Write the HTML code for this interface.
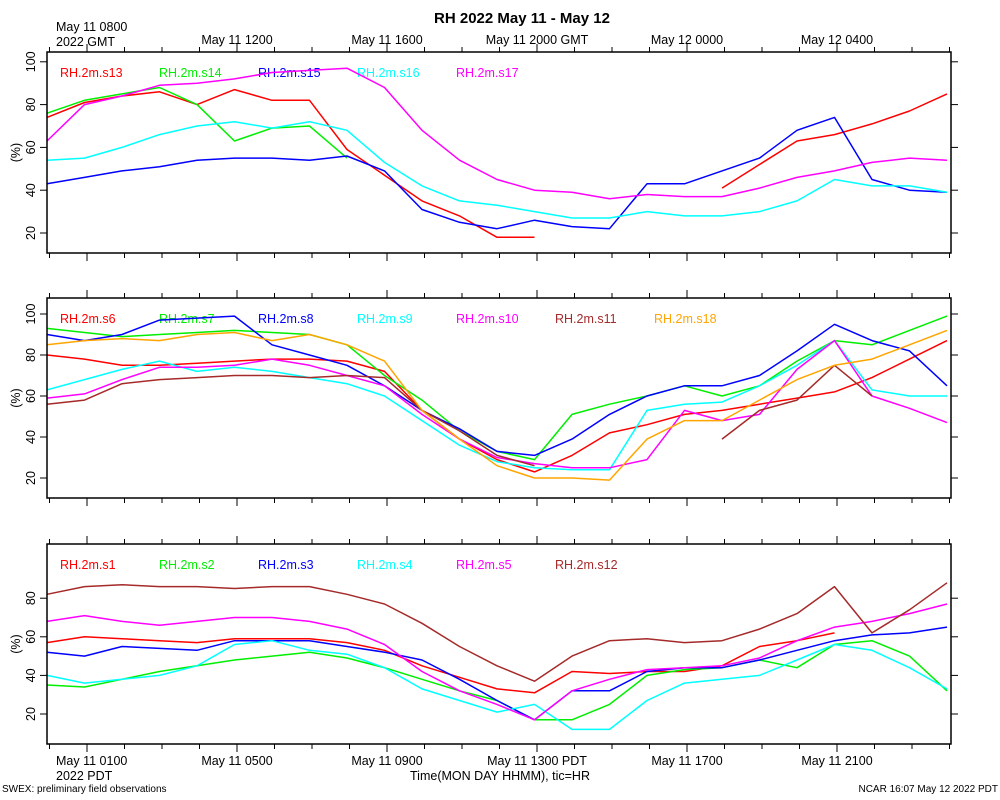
<!DOCTYPE html>
<html><head><meta charset="utf-8"><style>
body{margin:0;background:#fff;}
svg{display:block;font-family:"Liberation Sans",sans-serif;}
</style></head><body>
<svg id="c" width="1000" height="800">
<text x="522" y="23" text-anchor="middle" font-size="15" font-weight="bold">RH 2022 May 11 - May 12</text>
<text x="56" y="31" font-size="12.5">May 11 0800</text>
<text x="56" y="46" font-size="12.5">2022 GMT</text>
<text x="56" y="765" font-size="12.5">May 11 0100</text>
<text x="56" y="780" font-size="12.5">2022 PDT</text>
<text x="500" y="780" text-anchor="middle" font-size="12.5">Time(MON DAY HHMM), tic=HR</text>
<text x="2" y="792" font-size="10">SWEX: preliminary field observations</text>
<text x="998" y="792" text-anchor="end" font-size="10">NCAR 16:07 May 12 2022 PDT</text>
</svg>
<script>
const topTicks=["May 11 1200","May 11 1600","May 11 2000 GMT","May 12 0000","May 12 0400"];
const botTicks=["May 11 0500","May 11 0900","May 11 1300 PDT","May 11 1700","May 11 2100"];
const yTicks1=[20,40,60,80,100];
const yTicks3=[20,40,60,80];
const N=null;
// panel 1
const s13=[74,81,84,86,80,87,82,82,59,47,35,28,18,18,N,N,N,N,41,52,63,66,71,77,85];
const s14=[76,82,85,88,80,63,69,70,55,N,N,N,N,N,N,N,N,N,N,N,N,N,N,N,N];
const s15=[43,46,49,51,54,55,55,54,56,49,31,25,22,26,23,22,43,43,49,55,68,74,45,40,39];
const s16=[54,55,60,66,70,72,69,72,68,53,42,35,33,30,27,27,30,28,28,30,35,45,42,42,39];
const s17=[63,80,84,89,90,92,95,96,97,88,68,54,45,40,39,36,38,37,37,41,46,49,53,55,54];
// panel 2
const s6=[80,78,75,75,76,77,78,78,77,72,53,39,29,23,31,42,46,51,53,56,59,62,69,78,87];
const s7=[93,91,89,90,91,92,91,90,85,70,58,43,33,29,51,56,60,65,60,65,77,87,85,92,99];
const s8=[90,87,90,97,98,99,85,80,75,65,53,44,33,31,39,51,60,65,65,70,82,95,87,82,65];
const s9=[63,68,73,77,72,74,72,69,66,60,48,36,28,25,24,24,53,56,57,65,75,87,63,60,60];
const s10=[59,61,68,74,74,75,78,75,70,65,51,39,30,27,25,25,29,53,48,51,73,87,60,54,47];
const s11=[56,58,66,68,69,70,70,69,70,69,53,43,31,26,N,N,N,N,39,53,58,75,60,N,N];
const s18=[85,87,88,87,90,91,87,90,85,77,53,39,26,20,20,19,39,48,48,58,68,75,78,85,92];
// panel 3
const s1=[57,60,59,58,57,59,59,59,57,53,45,39,33,31,42,41,42,42,45,55,58,62,N,N,N];
const s2=[35,34,38,42,45,48,50,52,49,44,38,32,27,17,17,25,40,43,44,48,44,56,58,50,32];
const s3=[52,50,55,54,53,58,58,58,55,52,48,38,27,17,32,32,42,44,44,48,53,58,61,62,65];
const s4=[40,36,38,40,45,56,58,53,51,44,33,27,21,25,12,12,27,36,38,40,48,56,53,44,33];
const s5=[68,71,68,66,68,70,70,68,64,56,42,32,25,17,32,38,43,44,45,49,58,65,68,72,77];
const s12=[82,86,87,86,86,85,86,86,82,77,67,55,45,37,50,58,59,57,58,64,72,86,62,74,88];

const panels=[
 {top:52,bot:253,v0:20,y0:233,ppu:2.14,ticks:yTicks1,series:[["RH.2m.s13",s13,"#f00"],["RH.2m.s14",s14,"#0e0"],["RH.2m.s15",s15,"#00f"],["RH.2m.s16",s16,"#0ff"],["RH.2m.s17",s17,"#f0f"]]},
 {top:298,bot:498,v0:20,y0:478,ppu:2.05,ticks:yTicks1,series:[["RH.2m.s6",s6,"#f00"],["RH.2m.s7",s7,"#0e0"],["RH.2m.s8",s8,"#00f"],["RH.2m.s9",s9,"#0ff"],["RH.2m.s10",s10,"#f0f"],["RH.2m.s11",s11,"#a52a2a"],["RH.2m.s18",s18,"#ffa500"]]},
 {top:544,bot:744,v0:20,y0:714,ppu:1.93,ticks:yTicks3,series:[["RH.2m.s1",s1,"#f00"],["RH.2m.s2",s2,"#0e0"],["RH.2m.s3",s3,"#00f"],["RH.2m.s4",s4,"#0ff"],["RH.2m.s5",s5,"#f0f"],["RH.2m.s12",s12,"#a52a2a"]]}
];
const X0=47,X1=951;
function xs(t){return X0+t*37.5;}
const svg=document.getElementById('c');
const NS="http://www.w3.org/2000/svg";
function mk(tag,attrs,parent){const e=document.createElementNS(NS,tag);for(const k in attrs)e.setAttribute(k,attrs[k]);(parent||svg).appendChild(e);return e;}
panels.forEach((p,pi)=>{
  const g=mk('g',{});
  
  
  const ys=v=>p.y0-(v-p.v0)*p.ppu;
  p.series.forEach((s,si)=>{
    let d="",pen=false;
    s[1].forEach((v,i)=>{ if(v===null){pen=false;return;} d+=(pen?"L":"M")+xs(i).toFixed(1)+","+ys(v).toFixed(1); pen=true;});
    const path=mk('path',{d:d,fill:"none",stroke:s[2],"stroke-width":1.5,"stroke-linejoin":"round"},g);
    
    
    const lt=mk('text',{x:60+99*si,y:p.top+25,fill:s[2],"font-size":12.5},g);
    
    
    lt.textContent=s[0];
  });
  const fr=mk('rect',{x:X0,y:p.top,width:X1-X0,height:p.bot-p.top,fill:"none",stroke:"#000","stroke-width":1.5},g);
  
  
  for(let h=0;h<=24;h++){
    const x=49.5+h*37.5; if(x>X1)break;
    const L=((h-1)%4===0)?8:5;
    mk('line',{x1:x,x2:x,y1:p.top,y2:p.top-L,stroke:"#000"},g);
    mk('line',{x1:x,x2:x,y1:p.bot,y2:p.bot+L,stroke:"#000"},g);
  }
  p.ticks.forEach(v=>{
    const y=ys(v);
    mk('line',{x1:X0,x2:X0-7,y1:y,y2:y,stroke:"#000"},g);
    mk('line',{x1:X1,x2:X1+7,y1:y,y2:y,stroke:"#000"},g);
    const t=mk('text',{x:X0-16,y:y+4,"text-anchor":"middle","font-size":12.5,transform:`rotate(-90 ${X0-16} ${y})`},g);
    
    
    t.textContent=v;
  });
  const yl=mk('text',{x:20,y:(p.top+p.bot)/2,"text-anchor":"middle","font-size":12.5,transform:`rotate(-90 20 ${(p.top+p.bot)/2})`},g);
  
  
  yl.textContent="(%)";
});
topTicks.forEach((s,i)=>{
  const t=mk('text',{x:237+150*i,y:44,"text-anchor":"middle","font-size":12.5});
  
  
  t.textContent=s;
});
botTicks.forEach((s,i)=>{
  const t=mk('text',{x:237+150*i,y:765,"text-anchor":"middle","font-size":12.5});
  
  
  t.textContent=s;
});
</script>
</body></html>
